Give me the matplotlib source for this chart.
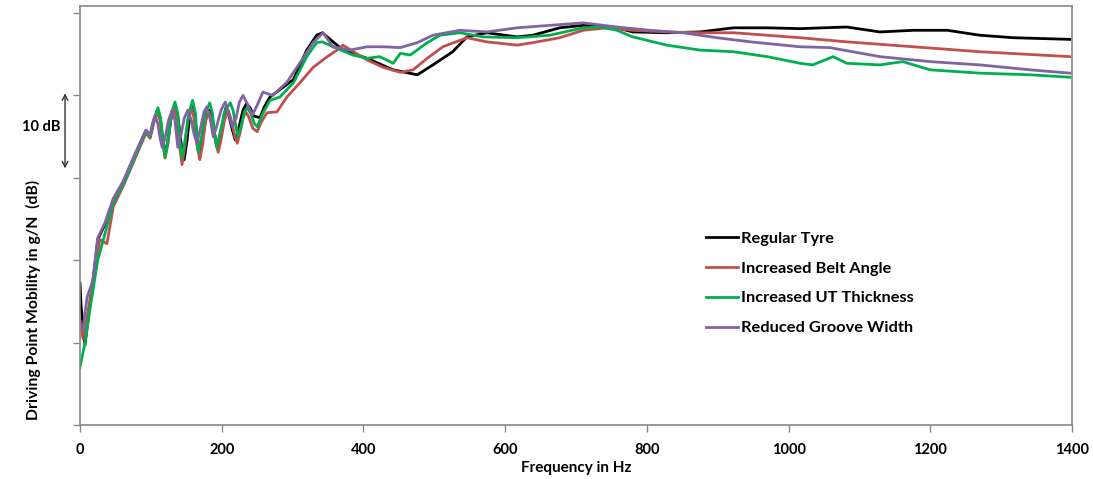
import matplotlib
matplotlib.use("Agg")
import matplotlib.pyplot as plt
import matplotlib.transforms as mtransforms

# values: frequency (Hz) and mobility (dB, arbitrary zero)
reg_f = [0, 1.5, 7, 11, 17, 25, 35, 47, 61, 78, 93,
         99, 104, 109, 113, 117, 120, 124, 129, 134, 138, 143, 147, 151, 155, 158, 162, 166, 169,
         173, 178, 183, 187, 191, 195, 199, 203, 206, 210, 215, 219, 224, 230, 235, 240, 245, 254,
         260, 268, 301, 320, 334, 342, 371, 405, 442, 476, 498, 526, 546, 574, 617,
         639, 677, 710, 734, 758, 780, 828, 875, 922, 970, 1016, 1082, 1129, 1176, 1224, 1270,
         1317, 1397]
reg_db = [17.2, 14.5, 9.7, 12.5, 16.5, 22.5, 24.3, 27.3, 29.4, 32.8, 35.7,
          35.0, 36.8, 38.2, 37.3, 34.5, 32.8, 34.5, 37.5, 38.8, 37.5, 34.0, 32.2, 34.5, 37.8, 38.8,
          37.5, 34.5, 32.8, 34.8, 37.5, 38.2, 37.0, 34.8, 33.4, 35.2, 37.5, 38.5, 37.6, 35.8, 34.6,
          36.0, 38.2, 39.0, 38.5, 37.5, 37.3,
          38.6, 39.8, 41.9, 45.5, 47.3, 47.6, 45.5, 44.5, 43.1, 42.5, 43.7, 45.3, 47.1, 47.6, 47.1,
          47.3, 48.2, 48.5, 48.4, 48.2, 47.7, 47.6, 47.7, 48.2, 48.2, 48.1, 48.3, 47.7, 47.9, 47.9,
          47.3, 47.0, 46.8]

belt_f = [0, 4, 10, 17, 28, 38, 47, 61, 78, 93,
          99, 104, 109, 113, 117, 120, 124, 128, 133, 137, 141, 144, 148, 152, 157, 161, 165, 169,
          173, 177, 182, 186, 191, 195, 199, 204, 209, 213, 218, 222, 226, 230, 234, 238, 244, 250,
          256, 264, 278, 292, 310, 329, 349, 363, 371, 405, 428, 452, 470, 490, 512, 546,
          574, 617, 639, 677, 710, 744, 780, 828, 875, 922, 970, 1016, 1082, 1176, 1270, 1397]
belt_db = [12.5, 10.5, 13.0, 17.0, 22.5, 22.0, 26.5, 29.0, 32.4, 35.4,
           34.8, 36.6, 38.0, 37.0, 34.2, 32.4, 34.0, 37.0, 38.5, 37.0, 33.5, 31.6, 33.8, 37.0, 38.5,
           37.2, 34.0, 32.2, 34.0, 36.8, 38.0, 36.8, 34.5, 33.1, 34.6, 37.0, 38.2, 37.2, 35.2, 34.2,
           35.5, 37.2, 38.0, 37.4, 36.0, 35.6,
           36.8, 37.9, 38.0, 39.8, 41.5, 43.4, 44.7, 45.5, 46.1, 44.3, 43.4, 42.8, 43.1, 44.5, 45.9,
           47.0, 46.5, 46.1, 46.4, 47.0, 47.9, 48.2, 47.9, 47.7, 47.6, 47.6, 47.3, 47.0, 46.5, 45.9,
           45.3, 44.7]

ut_f = [0, 7, 14, 25, 33, 47, 61, 78, 93,
        99, 104, 110, 114, 117, 120, 124, 129, 134, 138, 141, 144, 148, 154, 159, 163, 165, 167,
        171, 177, 183, 187, 190, 193, 197, 204, 212, 216, 220, 223, 228, 232, 236, 241, 246, 250,
        258, 268, 282, 301, 320, 334, 342, 357, 385, 405, 423, 442, 452, 466, 490, 508, 536,
        569, 617, 663, 710, 734, 758, 780, 828, 875, 922, 970, 1016, 1034, 1063, 1082, 1129, 1161,
        1200, 1270, 1341, 1397]
ut_db = [7.0, 10.0, 14.0, 20.0, 22.5, 27.0, 29.2, 32.6, 35.6,
         35.0, 37.0, 38.5, 37.2, 34.5, 32.5, 34.5, 37.8, 39.2, 37.8, 34.5, 32.4, 34.5, 38.0, 39.4,
         37.8, 35.0, 33.1, 34.8, 37.8, 39.1, 37.8, 35.3, 33.7, 35.2, 38.0, 39.1, 38.2, 36.2, 35.0,
         36.5, 38.0, 38.5, 37.8, 36.6, 36.2,
         37.8, 39.4, 39.8, 41.5, 44.7, 46.4, 46.5, 45.9, 44.9, 44.5, 44.7, 43.9, 45.1, 44.9, 46.4,
         47.3, 47.6, 47.1, 47.0, 47.3, 48.2, 48.3, 47.9, 47.1, 46.1, 45.5, 45.3, 44.7, 43.9, 43.7,
         44.7, 43.9, 43.7, 44.1, 43.1, 42.7, 42.5, 42.2]

groove_f = [0, 4, 10, 18, 25, 35, 47, 61, 78, 93,
            99, 102, 106, 110, 113, 116, 120, 125, 130, 134, 138, 142, 147, 152, 157, 161, 165,
            170, 175, 179, 184, 188, 192, 199, 205, 210, 215, 220, 225, 230, 236, 243, 250,
            258, 272, 292, 310, 329, 343, 357, 381, 405, 428, 452, 476, 498, 536,
            574, 617, 663, 710, 758, 804, 851, 899, 946, 1016, 1058, 1129, 1200, 1270, 1341, 1397]
groove_db = [12.0, 11.5, 15.5, 17.5, 22.7, 24.5, 27.5, 29.6, 33.0, 35.8,
             35.2, 36.5, 37.6, 36.5, 34.8, 33.7, 34.8, 37.0, 38.2, 37.0, 33.7, 35.0, 37.2, 38.2,
             37.0, 35.3, 34.2, 36.0, 38.0, 38.6, 37.0, 35.0, 36.0, 38.2, 39.2, 37.8, 36.2, 37.2,
             39.2, 40.0, 39.0, 37.6, 38.8,
             40.4, 40.0, 41.6, 43.9, 46.4, 47.6, 45.9, 45.5, 45.9, 45.9, 45.8, 46.4, 47.3, 47.9,
             47.7, 48.2, 48.5, 48.8, 48.3, 47.9, 47.6, 47.0, 46.5, 45.9, 45.8, 44.7, 44.1, 43.7,
             43.1, 42.7]

series = [
    ("Regular Tyre", reg_f, reg_db, "#000000"),
    ("Increased Belt Angle", belt_f, belt_db, "#C0504D"),
    ("Increased UT Thickness", ut_f, ut_db, "#00B050"),
    ("Reduced Groove Width", groove_f, groove_db, "#8064A2"),
]

x_ticks = [0, 200, 400, 600, 800, 1000, 1200, 1400]
y_ticks = [0, 10, 20, 30, 40, 50]

plt.rcParams['font.family'] = ['Lato', 'DejaVu Sans']

fig = plt.figure(figsize=(10.93, 4.79), dpi=100)
ax = fig.add_axes([0.0732, 0.1127, 0.9076, 0.8748])

for name, f, db, col in series:
    ax.plot(f, db, color=col, lw=2.0, label=name, solid_joinstyle='round')

ax.set_xlim(0, 1400)
ax.set_ylim(0, 50.85)
ax.set_xticks(x_ticks)
ax.set_xticklabels([str(t) for t in x_ticks], fontsize=10.5, fontweight='bold')
ax.set_yticks(y_ticks)
ax.set_yticklabels([])
ax.tick_params(axis='both', direction='out', length=5, width=1, color='#888888')
ax.tick_params(axis='x', pad=8)
for s in ax.spines.values():
    s.set_color('#888888')
    s.set_linewidth(1.2)

ax.set_xlabel("Frequency in Hz", fontsize=11, fontweight='bold', labelpad=3)
fig.text(0.031, 0.374, "Driving Point Mobility in g/N  (dB)", rotation=90,
         ha='center', va='center', fontsize=11.3, fontweight='bold')

# 10 dB scale arrow left of the axis
trans = mtransforms.blended_transform_factory(ax.transAxes, ax.transData)
ax.annotate("", xy=(-0.0151, 40.6), xytext=(-0.0151, 30.8), xycoords=trans, textcoords=trans,
            arrowprops=dict(arrowstyle='<->', color='#333333', lw=1), annotation_clip=False)
ax.text(-0.039, 36.2, "10 dB", transform=trans, ha='center', va='center',
        fontsize=10.5, fontweight='bold')

leg = ax.legend(loc='upper left', bbox_to_anchor=(0.623, 0.482), frameon=False,
                handlelength=1.95, handletextpad=0.15, labelspacing=0.94, borderpad=0,
                prop={'size': 11.8, 'weight': 'bold'})

fig.savefig("out.png", dpi=100)
